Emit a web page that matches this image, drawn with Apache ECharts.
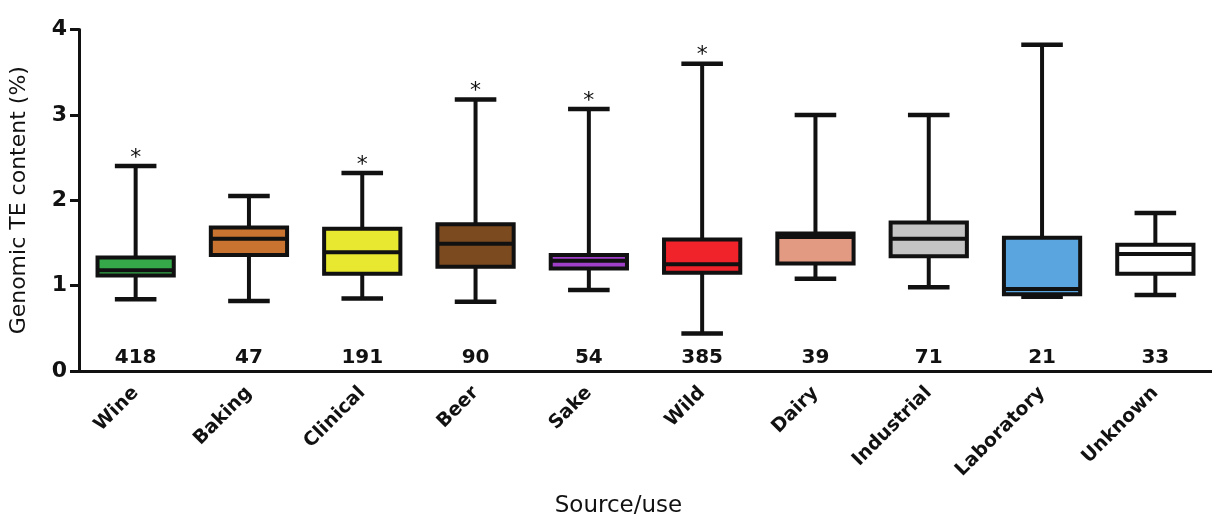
<!DOCTYPE html>
<html>
<head>
<meta charset="utf-8">
<script src="https://cdn.jsdelivr.net/npm/echarts@6/dist/echarts.min.js"></script>
<style>
  html, body { margin: 0; padding: 0; background: #ffffff; }
  #chart { width: 1212px; height: 523px; }
</style>
</head>
<body>
<div id="chart"></div>
<script>
// ---- data ----
const categories = ['Wine', 'Baking', 'Clinical', 'Beer', 'Sake', 'Wild', 'Dairy', 'Industrial', 'Laboratory', 'Unknown'];
const whiskerLow  = [0.84, 0.82, 0.85, 0.81, 0.95, 0.44, 1.08, 0.98, 0.87, 0.89];
const q1          = [1.12, 1.36, 1.14, 1.22, 1.20, 1.15, 1.26, 1.345, 0.90, 1.14];
const medians     = [1.18, 1.55, 1.39, 1.49, 1.29, 1.25, 1.57, 1.55, 0.96, 1.37];
const q3          = [1.33, 1.68, 1.665, 1.72, 1.36, 1.54, 1.61, 1.74, 1.56, 1.48];
const whiskerHigh = [2.40, 2.05, 2.32, 3.18, 3.07, 3.60, 3.00, 3.00, 3.82, 1.85];
const sampleSizes = ['418', '47', '191', '90', '54', '385', '39', '71', '21', '33'];
const significant = [true, false, true, true, true, true, false, false, false, false];
const yTicks = [0, 1, 2, 3, 4];

// ---- styles ----
const boxColors = ['#35a84a', '#c8732f', '#e8e830', '#7b4a1f', '#a040c8', '#f0222a', '#e39a83', '#c4c4c4', '#5aa4df', '#ffffff'];
const INK = '#111111';
const LW = 4;

const seriesData = categories.map((c, i) => [i, whiskerLow[i], q1[i], medians[i], q3[i], whiskerHigh[i]]);

function renderItem(params, api) {
  const i = api.value(0);
  const x = api.coord([i, 0])[0];
  const yOf = v => api.coord([i, v])[1];
  const band = api.size([1, 0])[0];
  const bw = band * 0.673;
  const cw = band * 0.367;
  const yMin = yOf(api.value(1)), yQ1 = yOf(api.value(2)), yMed = yOf(api.value(3)),
        yQ3 = yOf(api.value(4)), yMax = yOf(api.value(5));
  const line = (x1, y1, x2, y2, w) => ({
    type: 'line', shape: { x1, y1, x2, y2 },
    style: { stroke: INK, lineWidth: w || LW, lineCap: 'butt' }
  });
  const children = [
    line(x, yMax, x, yMin),
    line(x - cw / 2, yMax, x + cw / 2, yMax, 4.5),
    line(x - cw / 2, yMin, x + cw / 2, yMin, 4.5),
    {
      type: 'rect',
      shape: { x: x - bw / 2, y: yQ3, width: bw, height: yQ1 - yQ3 },
      style: { fill: boxColors[i], stroke: INK, lineWidth: LW }
    },
    line(x - bw / 2, yMed, x + bw / 2, yMed, LW)
  ];
  if (significant[i]) {
    children.push({
      type: 'text',
      style: {
        text: '*', x: x, y: yMax - 8, align: 'center', verticalAlign: 'middle',
        fill: INK, font: 'normal 22px "DejaVu Sans"'
      }
    });
  }
  children.push({
    type: 'text',
    style: {
      text: sampleSizes[i], x: x, y: yOf(0) - 13, align: 'center', verticalAlign: 'middle',
      fill: INK, font: 'bold 20px "DejaVu Sans"'
    }
  });
  return { type: 'group', children };
}

const chart = echarts.init(document.getElementById('chart'), null, { renderer: 'canvas' });
chart.setOption({
  backgroundColor: '#ffffff',
  animation: false,
  grid: { left: 73, right: -5, top: 29.5, bottom: 150, containLabel: false },
  xAxis: {
    type: 'category',
    data: categories,
    name: 'Source/use',
    nameLocation: 'middle',
    nameGap: 124,
    nameTextStyle: { color: INK, fontFamily: 'DejaVu Sans', fontSize: 23, padding: [0, 54, 0, 0] },
    axisLine: { lineStyle: { color: INK, width: 3 } },
    axisTick: { alignWithLabel: true, length: 8, lineStyle: { color: INK, width: 3 } },
    axisLabel: { interval: 0, rotate: 45, margin: 19, color: INK, fontFamily: 'DejaVu Sans', fontWeight: 'bold', fontSize: 19 },
    splitLine: { show: false }
  },
  yAxis: {
    type: 'value',
    min: yTicks[0],
    max: yTicks[yTicks.length - 1],
    interval: 1,
    name: 'Genomic TE content (%)',
    nameLocation: 'middle',
    nameRotate: 90,
    nameGap: 49,
    nameTextStyle: { color: INK, fontFamily: 'DejaVu Sans', fontSize: 22 },
    axisLine: { show: true, lineStyle: { color: INK, width: 3 } },
    axisTick: { show: true, length: 9, lineStyle: { color: INK, width: 3 } },
    axisLabel: { margin: 12, color: INK, fontFamily: 'DejaVu Sans', fontWeight: 'bold', fontSize: 22,
      formatter: v => yTicks.includes(v) ? String(v) : '' },
    splitLine: { show: false }
  },
  series: [{
    type: 'custom',
    renderItem: renderItem,
    encode: { x: 0, y: [1, 2, 3, 4, 5] },
    data: seriesData,
    clip: false
  }]
});
</script>
</body>
</html>
